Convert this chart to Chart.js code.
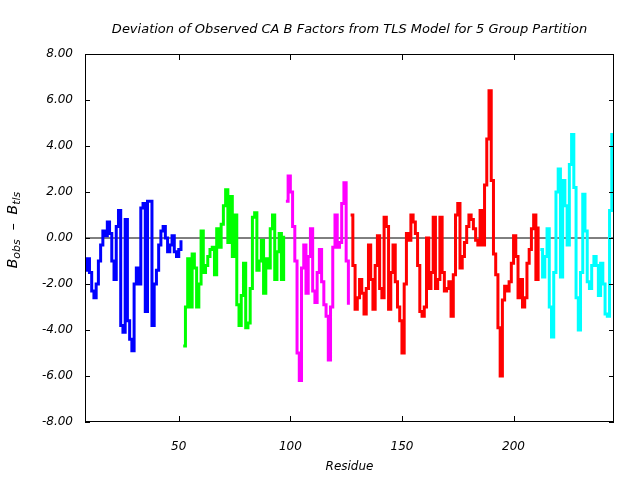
<!DOCTYPE html>
<html>
<head>
<meta charset="utf-8">
<script src="https://cdn.jsdelivr.net/npm/chart.js@4.4.1/dist/chart.umd.min.js"></script>
<style>
  html, body { margin: 0; padding: 0; background: #fff; }
  #wrap { width: 640px; height: 480px; }
</style>
</head>
<body>
<div id="wrap"><canvas id="chart" width="640" height="480"></canvas></div>
<script>
// residue numbers where each TLS group starts
const blueStart = 8;
const greenStart = 52;
const magentaStart = 98;
const redStart = 127;
const cyanStart = 212;

// B_obs - B_tls per residue
const blueVals = [-1.4, -0.9, -1.5, -2.3, -2.6, -2.0, -1.0, -0.3, 0.3, 0.1, 0.7, 0.2, -1.0, -1.8, 0.5, 1.2,
    -3.8, -4.1, 0.8, -3.6, -4.4, -4.9, -2.0, -1.3, -2.0, 1.3, 1.5, -3.2, 1.6, 1.6, -3.8, -2.0, -1.4, -0.3,
    0.3, 0.5, 0.0, -0.6, -0.3, 0.1, -0.6, -0.8, -0.5, -0.1];
const greenVals = [-4.7, -3.0, -0.9, -3.0, -0.7, -1.3, -3.0, -2.0, 0.3, -1.5, -1.2, -0.8, -0.5, -0.4, -1.6,
    0.4, -0.4, 0.6, 1.4, 2.1, -0.2, 1.8, -0.8, 1.0, -2.9, -3.8, -2.5, -1.1, -3.9, -3.7, -2.2, 0.9, 1.1, -1.4,
    -1.0, -0.1, -2.4, -0.9, -1.3, 0.4, 1.0, -1.8, -0.6, 0.2, -1.8, 0.1];
const magentaVals = [1.6, 2.7, 2.0, 0.5, -1.0, -5.0, -6.2, -1.3, -0.3, -2.4, -0.8, 0.4, -2.3, -2.8, -1.5,
    -0.5, -1.9, -2.9, -3.4, -5.3, -3.0, -0.4, 1.0, -0.4, -0.2, 1.5, 2.4, -1.0, -2.9];
const redVals = [1.0, -1.2, -3.1, -2.6, -1.8, -2.4, -3.3, -2.2, -0.3, -1.8, -3.1, -1.2, 0.1, -2.2, -2.6, 0.9,
    0.5, -3.1, -1.5, -0.3, -1.9, -3.0, -3.6, -5.0, -2.0, 0.2, -0.1, 1.0, 0.7, 0.2, -1.2, -3.2, -3.4, -3.0, 0.0,
    -2.2, -1.5, 0.9, -2.2, -1.8, 0.9, -1.5, -2.3, -2.2, -1.9, -3.4, -1.6, 1.0, 1.5, -1.3, -0.8, -0.2, 0.5, 1.0,
    0.8, 0.4, -0.1, -0.3, 1.2, -0.3, 2.3, 4.3, 6.4, 2.5, -0.7, -1.6, -3.9, -6.0, -2.7, -2.1, -2.3, -1.9, -1.1,
    0.1, -0.8, -2.6, -1.8, -3.0, -2.6, -1.1, -0.5, 0.4, 1.0, -1.8, 0.5];
const cyanVals = [-0.5, -1.7, -0.8, 0.4, -3.0, -4.3, -1.5, 2.0, 3.0, -1.7, 2.5, 1.4, -0.3, 3.2, 4.5, 2.2,
    -2.6, -4.0, -1.5, 1.9, 0.3, -1.9, -2.2, -1.2, -0.8, -1.2, -2.5, -1.1, -2.0, -3.3, -3.4, 1.2, 4.5, 3.5];

const xTicks = [50, 100, 150, 200];
const yTicks = [-8, -6, -4, -2, 0, 2, 4, 6, 8];

function toPoints(start, vals) {
    let pts = [];
    for (let i = 0; i < vals.length; i++) {
        pts.push({x: start + i, y: vals[i]});
    }
    return pts;
}

function series(start, vals, color) {
    return {
        data: toPoints(start, vals),
        borderColor: color,
        borderWidth: 3,
        stepped: true,
        pointRadius: 0,
        fill: false
    };
}

const fontFam = "'DejaVu Sans', sans-serif";

// box, inward tick marks and the y axis label with subscripts
const frame = {
    id: 'frame',
    afterDatasetsDraw(chart) {
        const ctx = chart.ctx;
        const a = chart.chartArea;
        const xs = chart.scales.x;
        const ys = chart.scales.y;
        ctx.save();
        ctx.strokeStyle = '#000';
        ctx.lineWidth = 1;
        ctx.strokeRect(a.left + 0.5, a.top + 0.5, a.right - a.left - 1, a.bottom - a.top - 1);
        ctx.beginPath();
        for (const v of xTicks) {
            const px = Math.round(xs.getPixelForValue(v)) + 0.5;
            ctx.moveTo(px, a.bottom);
            ctx.lineTo(px, a.bottom - 6);
            ctx.moveTo(px, a.top);
            ctx.lineTo(px, a.top + 6);
        }
        for (const v of yTicks) {
            const py = Math.round(ys.getPixelForValue(v)) + 0.5;
            ctx.moveTo(a.left, py);
            ctx.lineTo(a.left + 5, py);
            ctx.moveTo(a.right, py);
            ctx.lineTo(a.right - 5, py);
        }
        ctx.stroke();

        const parts = [['B', 14, 0], ['obs', 11, 4], ['  \u2013  ', 14, 0], ['B', 14, 0], ['tls', 11, 4]];
        let total = 0;
        for (const p of parts) {
            ctx.font = 'italic ' + p[1] + 'px ' + fontFam;
            total += ctx.measureText(p[0]).width;
        }
        ctx.translate(13, 230);
        ctx.rotate(-Math.PI / 2);
        ctx.fillStyle = '#000';
        ctx.textBaseline = 'middle';
        let cx = -total / 2;
        for (const p of parts) {
            ctx.font = 'italic ' + p[1] + 'px ' + fontFam;
            ctx.fillText(p[0], cx, p[2]);
            cx += ctx.measureText(p[0]).width;
        }
        ctx.restore();
    }
};

const ctx = document.getElementById('chart').getContext('2d');
const chart = new Chart(ctx, {
    type: 'line',
    data: {
        datasets: [
            series(blueStart, blueVals, '#0000ff'),
            series(greenStart, greenVals, '#00ff00'),
            series(magentaStart, magentaVals, '#ff00ff'),
            series(redStart, redVals, '#ff0000'),
            series(cyanStart, cyanVals, '#00ffff'),
            {
                data: [{x: 8, y: 0}, {x: 245, y: 0}],
                borderColor: '#000',
                borderWidth: 1,
                pointRadius: 0
            }
        ]
    },
    options: {
        responsive: false,
        animation: false,
        layout: { padding: { left: 0, right: 26, top: 0, bottom: 0 } },
        plugins: {
            legend: { display: false },
            tooltip: { enabled: false },
            title: {
                display: true,
                fullSize: false,
                text: 'Deviation of Observed CA B Factors from TLS Model for 5 Group Partition',
                color: '#000',
                font: { family: fontFam, size: 13, style: 'italic', weight: 'normal' },
                padding: { top: 22, bottom: 16.4 }
            }
        },
        scales: {
            x: {
                type: 'linear',
                min: 8,
                max: 245,
                afterBuildTicks: function (s) { s.ticks = xTicks.map(v => ({value: v})); },
                afterFit: function (s) { s.height = 58; },
                grid: { display: false, drawTicks: false },
                border: { display: false },
                ticks: {
                    color: '#000',
                    padding: 18,
                    maxRotation: 0,
                    font: { family: fontFam, size: 12, style: 'italic' }
                },
                title: {
                    display: true,
                    text: 'Residue',
                    color: '#000',
                    font: { family: fontFam, size: 12, style: 'italic' },
                    padding: { top: 4, bottom: 6 }
                }
            },
            y: {
                min: -8,
                max: 8,
                afterBuildTicks: function (s) { s.ticks = yTicks.map(v => ({value: v})); },
                afterFit: function (s) { s.width = 85; },
                grid: { display: false, drawTicks: false },
                border: { display: false },
                ticks: {
                    color: '#000',
                    padding: 12,
                    font: { family: fontFam, size: 12, style: 'italic' },
                    callback: function (v) { return v.toFixed(2); }
                }
            }
        }
    },
    plugins: [frame]
});
</script>
</body>
</html>
